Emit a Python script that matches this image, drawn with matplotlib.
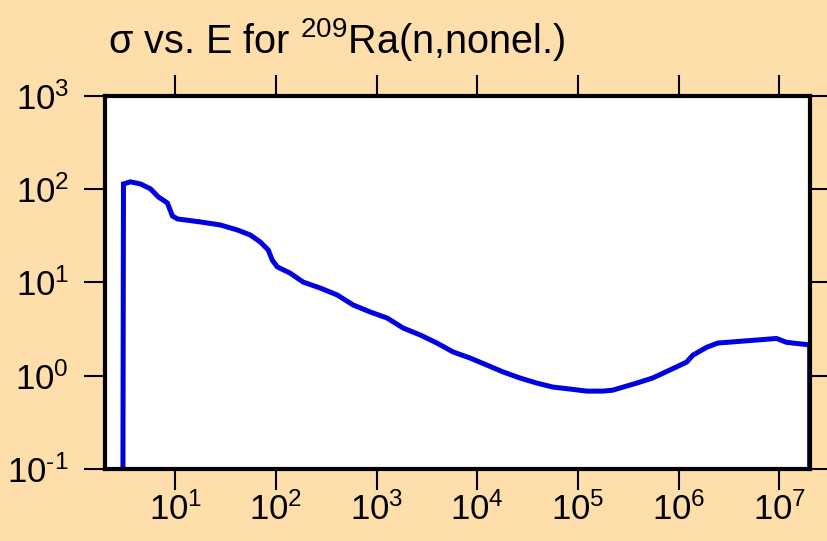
import numpy as np
import matplotlib.pyplot as plt
from matplotlib.ticker import FixedLocator, FixedFormatter, NullLocator

plt.rcParams['font.family'] = ['Liberation Sans', 'DejaVu Sans']
plt.rcParams['mathtext.fontset'] = 'custom'
plt.rcParams['mathtext.rm'] = 'Liberation Sans'
plt.rcParams['mathtext.it'] = 'Liberation Sans'

# energy (eV) and cross section (b)
energy = [3.0, 3.05, 3.58, 4.50, 5.65, 6.78, 8.33, 9.34, 10.5, 17.7, 27.9, 41.2,
          55.5, 69.7, 83.7, 91.7, 102.8, 138, 186, 274, 405, 583, 861, 1268,
          1829, 2698, 3975, 5730, 8450, 12450, 17950, 26480, 39000, 56230,
          83000, 122000, 176000, 221000, 383000, 552000, 815000, 1.2e6,
          1.38e6, 1.9e6, 2.44e6, 4.3e6, 9.4e6, 1.18e7, 1.86e7, 2.0e7, 2.0e7]
sigma = [0.01, 114, 120, 114, 101, 82.6, 71.2, 51.7, 48, 44.6, 41.4, 36.6,
         32.3, 27.2, 22.3, 17.4, 14.7, 12.6, 10.1, 8.73, 7.35, 5.74, 4.83, 4.16,
         3.25, 2.74, 2.24, 1.80, 1.55, 1.30, 1.10, 0.946, 0.834, 0.756,
         0.720, 0.684, 0.684, 0.70, 0.834, 0.946, 1.15, 1.40,
         1.66, 2.02, 2.24, 2.35, 2.51, 2.28, 2.16, 2.14, 0.01]

xexp = ['1', '2', '3', '4', '5', '6', '7']
yexp = [r'\text{-}1', '0', '1', '2', '3']
xticks = [10.0**int(k) for k in xexp]
xlabels = [r'$\mathregular{10^{%s}}$' % k for k in xexp]
yticks = [0.1, 1, 10, 100, 1000]
ylabels = [r'$\mathregular{10^{%s}}$' % k for k in yexp]

bg = '#FEDEAB'
fig = plt.figure(figsize=(8.27, 5.41), dpi=100, facecolor=bg)
ax = fig.add_axes([0.127, 0.1331, 0.852, 0.6895])
ax.set_facecolor('white')

ax.plot(energy, sigma, color='#0000E0', lw=3.6, solid_joinstyle='miter')

ax.set_xscale('log')
ax.set_yscale('log')
ax.set_xlim(2.0, 2.0e7)
ax.set_ylim(0.1, 1000)

ax.xaxis.set_major_locator(FixedLocator(xticks))
ax.xaxis.set_major_formatter(FixedFormatter(xlabels))
ax.yaxis.set_major_locator(FixedLocator(yticks))
ax.yaxis.set_major_formatter(FixedFormatter(ylabels))
ax.xaxis.set_minor_locator(NullLocator())
ax.yaxis.set_minor_locator(NullLocator())

ax.tick_params(axis='both', which='major', direction='out', length=15,
               width=1.5, color='black', labelsize=25)
ax.tick_params(axis='x', top=True, bottom=True, pad=2)
ax.tick_params(axis='y', left=True, right=True, pad=11)

for s in ax.spines.values():
    s.set_linewidth(3)
    s.set_color('black')

fig.text(0.131, 0.902, r'σ vs. E for $\mathregular{^{209}}$Ra(n,nonel.)',
         fontsize=28.5, ha='left', va='baseline')

fig.savefig('out.png', dpi=100, facecolor=bg)
